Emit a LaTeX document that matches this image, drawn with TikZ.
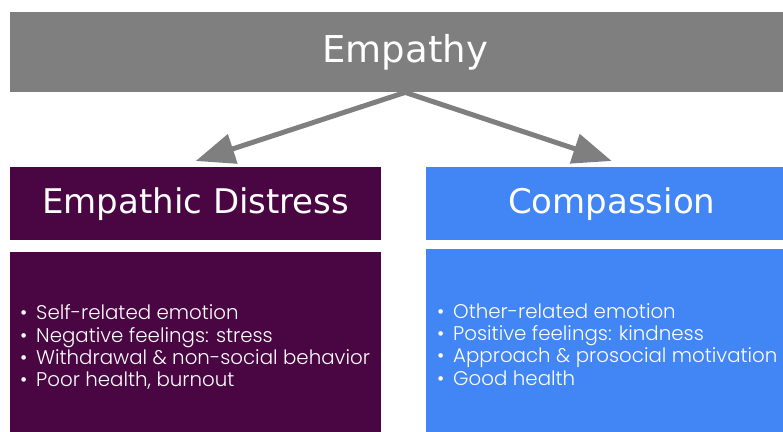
\documentclass[tikz,border=0pt]{standalone}
\usepackage{fontspec}
\setmainfont{DejaVu Sans}
\newfontfamily\listfont{Poppins}[UprightFont=* Light]
\usetikzlibrary{arrows.meta, positioning, calc}

\definecolor{bargray}{HTML}{7F7F7F}
\definecolor{distresscol}{HTML}{4A0642}
\definecolor{compasscol}{HTML}{4285F4}

\newcommand{\litem}{\makebox[16pt][l]{\textbullet}}

\tikzset{
  titlebar/.style={fill=bargray, text=white, inner sep=0pt,
    minimum width=790pt, minimum height=80pt, font=\fontsize{37}{44}\selectfont},
  headbox/.style={fill=#1, text=white, inner sep=0pt,
    minimum width=371pt, minimum height=73pt, font=\fontsize{34}{40}\selectfont},
  bodybox/.style={fill=#1, inner sep=0pt, minimum width=371pt, minimum height=186pt},
  listtext/.style={text=white, inner sep=0pt, align=left,
    font=\listfont\fontsize{19.8}{22.3}\selectfont},
  branch/.style={draw=bargray, line width=5pt, -{Triangle[length=39pt,width=30pt]}},
}

\begin{document}
\begin{tikzpicture}[x=1pt,y=-1pt]
\useasboundingbox (0,0) rectangle (783,431);
\clip (0,0) rectangle (783,431);

% top bar
\node[titlebar, anchor=north west] (empathy) at (10,12) {Empathy};

% two branches
\node[headbox=distresscol, anchor=north west] (dhead) at (10,167) {Empathic Distress};
\node[headbox=compasscol, anchor=north west] (chead) at (426,167) {Compassion};

\node[bodybox=distresscol, anchor=north west] (dbody) at (10,252) {};
\node[bodybox=compasscol, anchor=north west] (cbody) at (426,249) {};

\node[listtext, anchor=west] (dlist) at ($(dbody.west)+(10,2)$) {%
  \litem Self-related emotion\\
  \litem Negative feelings: stress\\
  \litem Withdrawal \& non-social behavior\\
  \litem Poor health, burnout};
\node[listtext, anchor=west] (clist) at ($(cbody.west)+(11,2)$) {%
  \litem Other-related emotion\\
  \litem Positive feelings: kindness\\
  \litem Approach \& prosocial motivation\\
  \litem Good health};

% arrows
\draw[branch] (empathy.south) -- ([yshift=6pt]dhead.north);
\draw[branch] (empathy.south) -- ([yshift=6pt]chead.north);
\end{tikzpicture}
\end{document}
